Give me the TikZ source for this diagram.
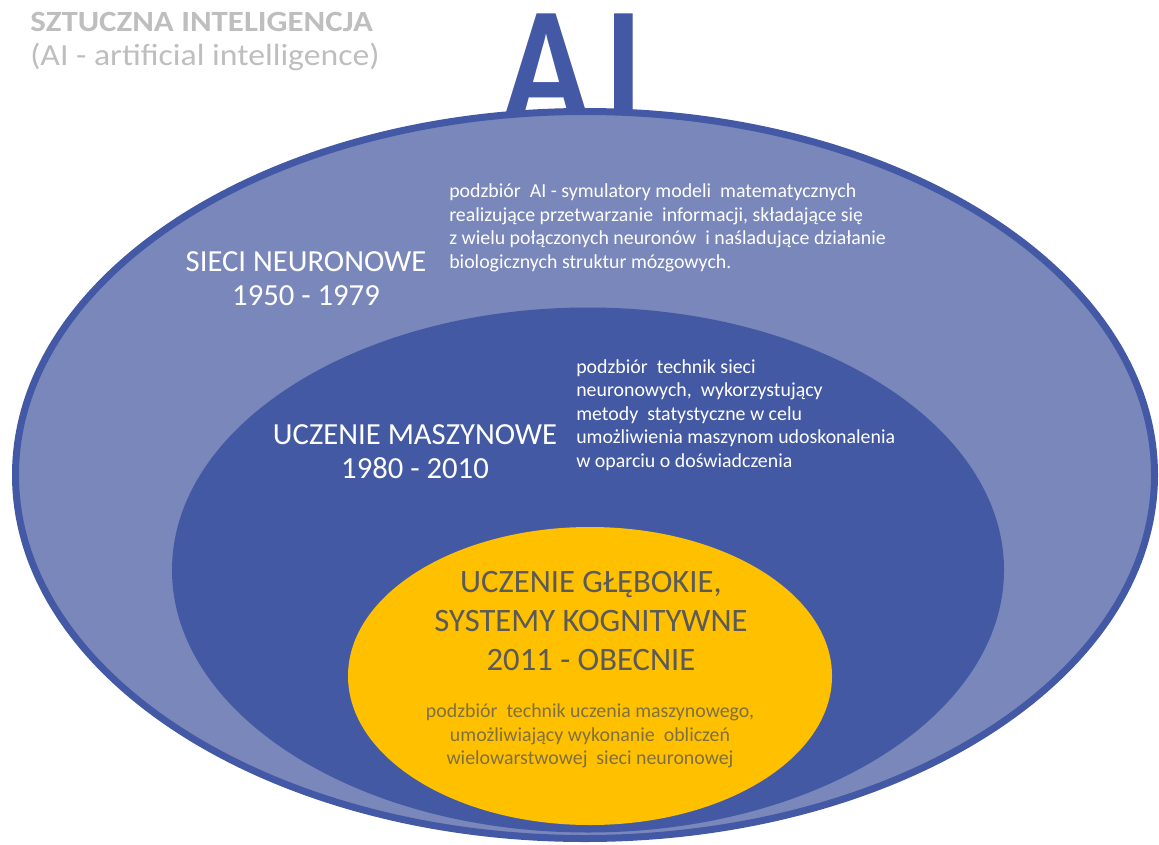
\documentclass[tikz,border=0pt]{standalone}
\usepackage{fontspec}
\setmainfont{Carlito}
\usetikzlibrary{shapes.geometric,positioning}

\definecolor{aiblue}{RGB}{68,89,165}
\definecolor{nnblue}{RGB}{122,135,187}
\definecolor{mlblue}{RGB}{68,89,164}
\definecolor{dlgold}{RGB}{255,192,0}
\definecolor{titlegrey}{RGB}{190,190,190}
\definecolor{dlgrey}{RGB}{90,90,90}
\definecolor{dltext}{RGB}{128,112,64}

\tikzset{
  layer/.style={ellipse,inner sep=0pt},
  head/.style={align=center,text=white,font=\fontsize{23}{25.5}\selectfont},
  desc/.style={align=left,text=white,inner sep=0pt,font=\fontsize{14.9}{17.6}\selectfont},
  titletext/.style={anchor=base west,inner sep=0pt,text=titlegrey}
}

\begin{document}
\begin{tikzpicture}[x=0.75pt,y=-0.75pt]
    \useasboundingbox (0,0) rectangle (1159,845);
    % title
    \node[titletext,font=\fontsize{22}{22}\selectfont\bfseries] (title) at (30,32) {\scalebox{1.12}[1]{SZTUCZNA INTELIGENCJA}};
    \node[titletext,font=\fontsize{23}{23}\selectfont] (subtitle) at (30,66) {\scalebox{1.1}[1]{(AI - artificial intelligence)}};
    \node[anchor=base,inner sep=0pt,text=aiblue,font=\fontsize{128}{128}\selectfont\bfseries] (ai) at (573,125) {\scalebox{0.85}[1]{A\kern12pt I}};
    \path
    % ellipses, outer to inner
    (585,475) node[layer,fill=nnblue,draw=aiblue,line width=5.25pt,minimum width=854.25pt,minimum height=545.25pt] (nn) {}
    (588,570) node[layer,fill=mlblue,minimum width=624pt,minimum height=393.75pt] (ml) {}
    (590,676) node[layer,fill=dlgold,minimum width=363pt,minimum height=223.5pt] (dl) {};
    % sieci neuronowe
    \node[head] (nnhead) at (306,279) {SIECI NEURONOWE\\1950 - 1979};
    \node[desc,anchor=west] (nndesc) at (449,228) {podzbiór\ \ AI - symulatory modeli\ \ matematycznych\\realizujące przetwarzanie\ \ informacji, składające się\\z wielu połączonych neuronów\ \ i naśladujące działanie\\biologicznych struktur mózgowych.};
    % uczenie maszynowe
    \node[head] (mlhead) at (415,452) {UCZENIE MASZYNOWE\\1980 - 2010};
    \node[desc,anchor=west] (mldesc) at (576,415) {podzbiór\ \ technik sieci\\neuronowych,\ \ wykorzystujący\\metody\ \ statystyczne w celu\\umożliwienia maszynom udoskonalenia\\w oparciu o doświadczenia};
    % uczenie glebokie
    \node[head,text=dlgrey,font=\fontsize{24.5}{28.9}\selectfont] (dlhead) at (591,621) {UCZENIE GŁĘBOKIE,\\SYSTEMY KOGNITYWNE\\2011 - OBECNIE};
    \node[desc,align=center,text=dltext] (dldesc) at (590,736) {podzbiór\ \ technik uczenia maszynowego,\\umożliwiający wykonanie\ \ obliczeń\\wielowarstwowej\ \ sieci neuronowej};
\end{tikzpicture}
\end{document}
